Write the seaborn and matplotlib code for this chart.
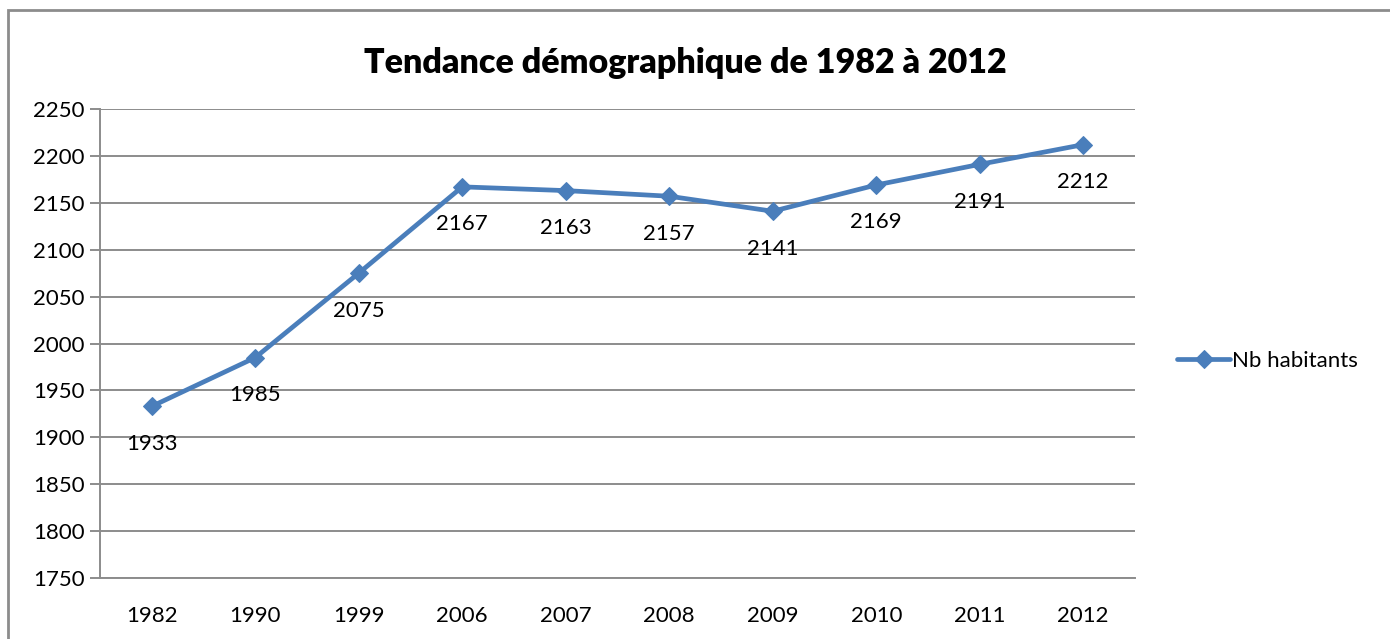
import matplotlib.pyplot as plt
import seaborn as sns
import pandas as pd
from matplotlib.patches import Rectangle

annees = ['1982', '1990', '1999', '2006', '2007', '2008', '2009', '2010', '2011', '2012']
habitants = [1933, 1985, 2075, 2167, 2163, 2157, 2141, 2169, 2191, 2212]
y_ticks = list(range(1750, 2251, 50))

df = pd.DataFrame({'annee': annees, 'habitants': habitants})

sns.set_theme(style='white')
plt.rcParams['font.family'] = ['Lato', 'DejaVu Sans']
plt.rcParams['text.color'] = 'black'
plt.rcParams['xtick.labelcolor'] = 'black'
plt.rcParams['ytick.labelcolor'] = 'black'

W, H = 1390, 639
fig = plt.figure(figsize=(W / 100, H / 100), dpi=100)
ax = fig.add_axes([100 / W, 1 - 578 / H, (1135 - 100) / W, (578 - 109) / H])

bleu = '#4a7ebb'
sns.lineplot(data=df, x='annee', y='habitants', ax=ax, color=bleu, linewidth=3.4,
             marker='D', markersize=9.5, markeredgecolor=bleu, sort=False,
             label='Nb habitants')

for i, v in enumerate(habitants):
    ax.annotate(str(v), (i, v), xytext=(0, -27), textcoords='offset points',
                ha='center', va='center', fontsize=16, color='black')

ax.set_xlim(-0.5, len(annees) - 0.5)
ax.set_ylim(1750, 2250)
ax.set_yticks(y_ticks)
ax.set_yticklabels([str(t) for t in y_ticks], fontsize=16)
ax.yaxis.grid(True, color='#8c8c8c', linewidth=1.4)
ax.set_axisbelow(True)

# ticks des catégories entre les points, à la manière d'Excel
ax.set_xticks(range(len(annees)))
ax.set_xticklabels(annees, fontsize=16)
ax.set_xticks([i - 0.5 for i in range(len(annees) + 1)], minor=True)
ax.tick_params(axis='x', which='major', length=0, pad=20)
ax.tick_params(axis='x', which='minor', length=7, color='#8c8c8c', width=1.4, direction='out')
ax.tick_params(axis='y', length=7, color='#8c8c8c', width=1.4, direction='out', left=True, pad=4)
ax.set_xlabel('')
ax.set_ylabel('')

for s in ['top', 'right']:
    ax.spines[s].set_visible(False)
for s in ['left', 'bottom']:
    ax.spines[s].set_color('#8c8c8c')
    ax.spines[s].set_linewidth(1.4)

leg = ax.legend(loc='center left', bbox_to_anchor=(1168 / W, 1 - 361 / H),
                bbox_transform=fig.transFigure, frameon=False, fontsize=16,
                handlelength=2.4, handletextpad=0.1, borderaxespad=0)
for t in leg.get_texts():
    t.set_color('black')

fig.text(685 / W, 1 - 63 / H, 'Tendance démographique de 1982 à 2012',
         ha='center', va='center', fontsize=24.5, fontweight='heavy', color='black')

fig.patches.append(Rectangle((8 / W, -0.1), 1.2, 1 - 10 / H + 0.1,
                             transform=fig.transFigure, fill=False,
                             edgecolor='#8c8c8c', linewidth=2))

fig.savefig('out.png', dpi=100)
